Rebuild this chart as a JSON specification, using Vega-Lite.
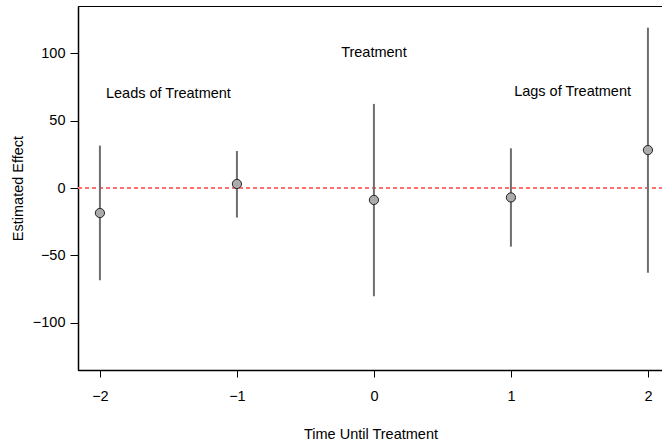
{
  "$schema": "https://vega.github.io/schema/vega-lite/v6.json",
  "autosize": {"type": "none"},
  "width": 585,
  "height": 364,
  "padding": {"left": 78, "top": 6, "right": 0, "bottom": 74},
  "background": "white",
  "config": {
    "view": {"stroke": "#000", "strokeWidth": 1},
    "font": "Liberation Sans",
    "axis": {
      "grid": false,
      "domainColor": "#000",
      "domainWidth": 1.5,
      "tickColor": "#000",
      "tickWidth": 1,
      "labelColor": "#000",
      "labelFont": "Liberation Sans",
      "labelFontSize": 14.5,
      "titleFont": "Liberation Sans",
      "titleFontSize": 14.5,
      "titleFontWeight": "normal",
      "titleColor": "#000"
    }
  },
  "datasets": {
    "est": [
      {"time": -2, "estimate": -18.6, "lower": -68.6, "upper": 31.5},
      {"time": -1, "estimate": 3.0, "lower": -22.0, "upper": 27.5},
      {"time": 0, "estimate": -8.9, "lower": -80.5, "upper": 62.5},
      {"time": 1, "estimate": -7.0, "lower": -43.6, "upper": 29.5},
      {"time": 2, "estimate": 28.2, "lower": -63.0, "upper": 119.2}
    ],
    "notes": [
      {"x": -1.5, "y": 70, "label": "Leads of Treatment"},
      {"x": 0, "y": 100, "label": "Treatment"},
      {"x": 1.45, "y": 71.5, "label": "Lags of Treatment"}
    ],
    "ref": [
      {"y": 0}
    ]
  },
  "layer": [
    {
      "data": {"name": "ref"},
      "mark": {"type": "rule", "color": "#ff7070", "strokeWidth": 2, "strokeDash": [4, 3]},
      "encoding": {
        "y": {"field": "y", "type": "quantitative"}
      }
    },
    {
      "data": {"name": "est"},
      "mark": {"type": "rule", "color": "#6e6e6e", "strokeWidth": 2},
      "encoding": {
        "x": {"field": "time", "type": "quantitative"},
        "y": {"field": "lower", "type": "quantitative"},
        "y2": {"field": "upper"}
      }
    },
    {
      "data": {"name": "est"},
      "mark": {"type": "point", "filled": true, "fill": "#ababab", "stroke": "#222", "strokeWidth": 1, "size": 85, "opacity": 1},
      "encoding": {
        "x": {
          "field": "time", "type": "quantitative",
          "scale": {"domain": [-2.16, 2.11], "nice": false, "zero": false},
          "axis": {"values": [-2, -1, 0, 1, 2], "format": "d", "tickSize": 7, "labelPadding": 12, "title": "Time Until Treatment", "titlePadding": 25}
        },
        "y": {
          "field": "estimate", "type": "quantitative",
          "scale": {"domain": [-135.3, 135.3], "nice": false, "zero": false},
          "axis": {"values": [-100, -50, 0, 50, 100], "tickSize": 8, "labelPadding": 5, "title": "Estimated Effect", "titlePadding": 7}
        }
      }
    },
    {
      "data": {"name": "notes"},
      "mark": {"type": "text", "fontSize": 14.5, "color": "#000", "font": "Liberation Sans", "align": "center", "baseline": "middle"},
      "encoding": {
        "x": {"field": "x", "type": "quantitative"},
        "y": {"field": "y", "type": "quantitative"},
        "text": {"field": "label"}
      }
    }
  ]
}
